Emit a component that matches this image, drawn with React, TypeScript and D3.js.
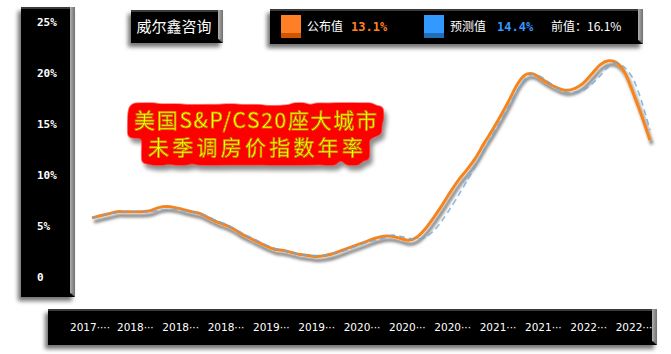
import React from 'react';
import * as d3 from 'd3';

// S&P/CS20 non-seasonally-adjusted YoY, monthly points
const ACTUAL = [
  5.8, 6.0, 6.2, 6.4, 6.4, 6.4, 6.4, 6.5, 6.8, 6.9, 6.8, 6.6,
  6.4, 6.2, 5.8, 5.4, 5.1, 4.7, 4.2, 3.8, 3.4, 3.0, 2.7, 2.6,
  2.4, 2.2, 2.1, 2.0, 2.1, 2.3, 2.6, 2.9, 3.2, 3.5, 3.8, 4.0,
  4.0, 3.8, 3.6, 3.9, 4.7, 5.8, 7.0, 8.3, 9.5, 10.5, 11.6, 13.0,
  14.3, 15.7, 17.2, 18.8, 19.8, 19.9, 19.4, 18.9, 18.5, 18.3, 18.5, 19.0,
  19.9, 20.8, 21.2, 21.0, 20.0, 18.0, 15.8, 13.4,
];
const FORECAST = [
  5.8, 6.0, 6.2, 6.3, 6.4, 6.4, 6.4, 6.4, 6.5, 6.6, 6.6, 6.5,
  6.4, 6.2, 5.9, 5.5, 5.2, 4.8, 4.3, 3.9, 3.5, 3.1, 2.8, 2.6,
  2.4, 2.2, 2.1, 2.1, 2.1, 2.3, 2.5, 2.8, 3.1, 3.4, 3.6, 3.8,
  4.1, 4.0, 3.8, 3.7, 3.9, 4.5, 5.5, 6.7, 8.0, 9.4, 10.8, 12.3,
  13.8, 15.2, 16.7, 18.2, 19.4, 19.9, 19.6, 19.0, 18.4, 18.1, 18.1, 18.3,
  18.9, 19.7, 20.6, 21.0, 20.5, 19.4, 17.2, 14.4,
];
const X_LABELS = [
  '2017····', '2018···', '2018···', '2018···', '2019···', '2019···', '2020···',
  '2020···', '2020···', '2021···', '2021···', '2022···', '2022···',
];
const Y_TICKS = [0, 5, 10, 15, 20, 25];
const TITLE_LINES = ['美国S&P/CS20座大城市', '未季调房价指数年率'];

export default function App() {
  const W = 671;
  const H = 354;

  const x = d3.scaleLinear().domain([0, ACTUAL.length - 1]).range([92, 650]);
  const y = d3.scaleLinear().domain([0, 25]).range([277, 22]);
  const xl = d3.scalePoint<string>().domain(X_LABELS.map((d, i) => i + '')).range([90, 634]);

  const line = d3.line<number>()
    .x((d, i) => x(i))
    .y(d => y(d))
    .curve(d3.curveCardinal.tension(0.2));

  const bevel = (x0: number, y0: number, w: number, h: number) => (
    <g filter="url(#panelShadow)">
      <rect x={x0} y={y0} width={w} height={h} fill="#000" />
      <rect x={x0} y={y0} width={w} height={2} fill="#3a3a3a" />
      <rect x={x0 + w - 5} y={y0} width={5} height={h - 4} fill="url(#bevelGrad)" />
      <polygon points={`${x0 + w - 5},${y0 + h - 4} ${x0 + w},${y0 + h - 4} ${x0 + w},${y0 + h}`} fill="#777" />
    </g>
  );

  return (
    <svg width={W} height={H} style={{ position: 'absolute', left: 0, top: 0, background: '#fff' }}>
      <defs>
        <filter id="panelShadow" x="-20%" y="-20%" width="140%" height="150%">
          <feDropShadow dx="-3" dy="4" stdDeviation="2" floodColor="#000" floodOpacity="0.55" />
        </filter>
        <filter id="lineShadow" x="-5%" y="-10%" width="110%" height="130%">
          <feDropShadow dx="2" dy="4" stdDeviation="1.6" floodColor="#000" floodOpacity="0.55" />
        </filter>
        {/* red halo around the title glyphs, rounded, with a soft drop shadow */}
        <filter id="titleHalo" x="-15%" y="-40%" width="130%" height="190%">
          <feMorphology in="SourceAlpha" operator="dilate" radius="7" result="dil" />
          <feGaussianBlur in="dil" stdDeviation="2.5" result="blr" />
          <feComponentTransfer in="blr" result="blob">
            <feFuncA type="linear" slope="4" intercept="-1.2" />
          </feComponentTransfer>
          <feFlood floodColor="#ff0000" result="red" />
          <feComposite in="red" in2="blob" operator="in" result="redBlob" />
          <feOffset in="blob" dx="3" dy="5" result="off" />
          <feGaussianBlur in="off" stdDeviation="2" result="offb" />
          <feFlood floodColor="#000" floodOpacity="0.45" result="sc" />
          <feComposite in="sc" in2="offb" operator="in" result="shadow" />
          <feMerge>
            <feMergeNode in="shadow" />
            <feMergeNode in="redBlob" />
            <feMergeNode in="SourceGraphic" />
          </feMerge>
        </filter>
        <linearGradient id="bevelGrad" x1="0" x2="1" y1="0" y2="0">
          <stop offset="0" stopColor="#b0b0b0" />
          <stop offset="1" stopColor="#707070" />
        </linearGradient>
      </defs>

      {/* y axis panel */}
      {bevel(21, 7, 54, 290)}
      {Y_TICKS.map(v => (
        <text key={v} x={37} y={y(v)} dy="0.35em" fill="#fff" fontSize={11} fontWeight="bold"
          fontFamily="'DejaVu Sans Mono', monospace">{v === 0 ? '0' : v + '%'}</text>
      ))}

      {/* x axis panel */}
      {bevel(48, 309, 609, 36)}
      {X_LABELS.map((l, i) => (
        <text key={i} x={xl(i + '')} y={327} dy="0.35em" textAnchor="middle" fill="#fff" fontSize={10.5}
          fontFamily="'DejaVu Sans', sans-serif">{l}</text>
      ))}

      {/* watermark */}
      {bevel(131, 10, 92, 33)}
      <text x={174} y={27} dy="0.35em" textAnchor="middle" fill="#fff" fontSize={15}
        fontFamily="'Noto Sans CJK SC', sans-serif">威尔鑫咨询</text>

      {/* legend */}
      {bevel(270, 9, 373, 35)}
      <rect x={281} y={15} width={20} height={23} fill="#FF7F27" />
      <rect x={281} y={33} width={20} height={5} fill="#D35400" />
      <text x={307} y={27} dy="0.35em" fill="#fff" fontSize={12} fontFamily="'Noto Sans CJK SC', sans-serif">公布值</text>
      <text x={351} y={27} dy="0.35em" fill="#FF7F27" fontSize={12} fontWeight="bold"
        fontFamily="'DejaVu Sans Mono', monospace">13.1%</text>
      <rect x={424} y={15} width={20} height={23} fill="#3399FF" />
      <rect x={424} y={33} width={20} height={5} fill="#1E6FB5" />
      <text x={450} y={27} dy="0.35em" fill="#fff" fontSize={12} fontFamily="'Noto Sans CJK SC', sans-serif">预测值</text>
      <text x={497} y={27} dy="0.35em" fill="#3399FF" fontSize={12} fontWeight="bold"
        fontFamily="'DejaVu Sans Mono', monospace">14.4%</text>
      <text x={551} y={27} dy="0.35em" fill="#fff" fontSize={12} fontFamily="'Noto Sans CJK SC', sans-serif">前值：16.1%</text>

      {/* title */}
      <g filter="url(#titleHalo)" fontFamily="'Noto Sans CJK SC', sans-serif" fontSize={21}>
        <text x={134} y={121} dy="0.35em" textLength={243} lengthAdjust="spacing" fill="#FFFF00" stroke="#9a7a00"
          strokeWidth={0.5}>{TITLE_LINES[0]}</text>
        <text x={148} y={148} dy="0.35em" textLength={215} lengthAdjust="spacing" fill="#FFFF00" stroke="#9a7a00"
          strokeWidth={0.5}>{TITLE_LINES[1]}</text>
      </g>

      {/* series */}
      <g filter="url(#lineShadow)">
        <path d={line(ACTUAL) || ''} fill="none" stroke="#F5841F" strokeWidth={3} strokeLinejoin="round" />
      </g>
      <path d={line(FORECAST) || ''} fill="none" stroke="#6FA8DC" strokeWidth={1.6} strokeDasharray="6,4" opacity={0.8} />
    </svg>
  );
}
